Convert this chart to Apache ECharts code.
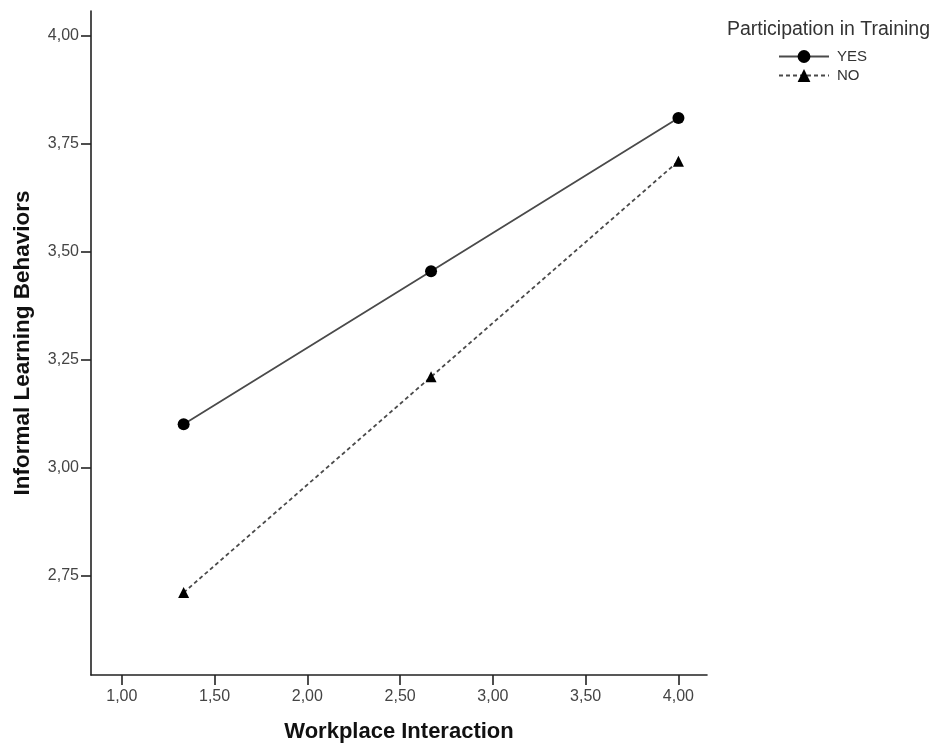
<!DOCTYPE html>
<html>
<head>
<meta charset="utf-8">
<script src="https://cdn.jsdelivr.net/npm/echarts@6/dist/echarts.min.js"></script>
<style>html,body{margin:0;padding:0;background:#fff}#c{width:935px;height:749px}</style>
</head>
<body>
<div id="c"></div>
<script>
const xValues = [1.3333, 2.6667, 4.0];
const yesValues = [3.10, 3.455, 3.81];
const noValues = [2.71, 3.21, 3.71];
const xTicks = [1.0, 1.5, 2.0, 2.5, 3.0, 3.5, 4.0];
const yTicks = [2.75, 3.0, 3.25, 3.5, 3.75, 4.0];
const seriesNames = ['YES', 'NO'];
const legendTitle = 'Participation in Training';
const xTitle = 'Workplace Interaction';
const yTitle = 'Informal Learning Behaviors';

const fmt = v => v.toFixed(2).replace('.', ',');
const font = 'Liberation Sans, Arial, sans-serif';

const chart = echarts.init(document.getElementById('c'));
chart.setOption({
  animation: false,
  backgroundColor: '#fff',
  title: {
    text: legendTitle,
    left: 722, top: 15,
    textStyle: {fontFamily: font, fontSize: 19.5, fontWeight: 'normal', color: '#333'}
  },
  legend: {
    orient: 'vertical',
    left: 773, top: 44,
    itemWidth: 50, itemHeight: 16, itemGap: 4,
    textStyle: {fontFamily: font, fontSize: 15, color: '#333', padding: [0, 0, 0, 3]},
    data: seriesNames
  },
  grid: {left: 91, top: 11, right: 228, bottom: 74, containLabel: false, outerBoundsMode: 'none'},
  xAxis: {
    type: 'value',
    min: 0.834, max: 4.154,
    name: xTitle, nameLocation: 'middle', nameGap: 46,
    nameTextStyle: {fontFamily: font, fontSize: 22, fontWeight: 'bold', color: '#111'},
    axisLine: {show: true, lineStyle: {color: '#222', width: 1.6}},
    axisTick: {show: true, inside: false, length: 10, customValues: xTicks, lineStyle: {color: '#222', width: 1.6}},
    axisLabel: {customValues: xTicks, formatter: fmt, margin: 14, fontFamily: font, fontSize: 16, color: '#444'},
    splitLine: {show: false}
  },
  yAxis: {
    type: 'value',
    min: 2.519, max: 4.058,
    name: yTitle, nameLocation: 'middle', nameGap: 57, nameRotate: 90,
    nameTextStyle: {fontFamily: font, fontSize: 22.5, fontWeight: 'bold', color: '#111'},
    axisLine: {show: true, lineStyle: {color: '#222', width: 1.6}},
    axisTick: {show: true, inside: false, length: 10, customValues: yTicks, lineStyle: {color: '#222', width: 1.6}},
    axisLabel: {customValues: yTicks, formatter: fmt, margin: 12, fontFamily: font, fontSize: 16, color: '#444'},
    splitLine: {show: false}
  },
  series: [
    {
      name: seriesNames[0], type: 'line',
      data: xValues.map((x, i) => [x, yesValues[i]]),
      symbol: 'circle', symbolSize: 12,
      itemStyle: {color: '#000'},
      lineStyle: {color: '#4a4a4a', width: 1.8, type: 'solid'}
    },
    {
      name: seriesNames[1], type: 'line',
      data: xValues.map((x, i) => [x, noValues[i]]),
      symbol: 'triangle', symbolSize: 11,
      itemStyle: {color: '#000'},
      lineStyle: {color: '#4a4a4a', width: 1.8, type: [4, 3]}
    }
  ]
});
</script>
</body>
</html>
